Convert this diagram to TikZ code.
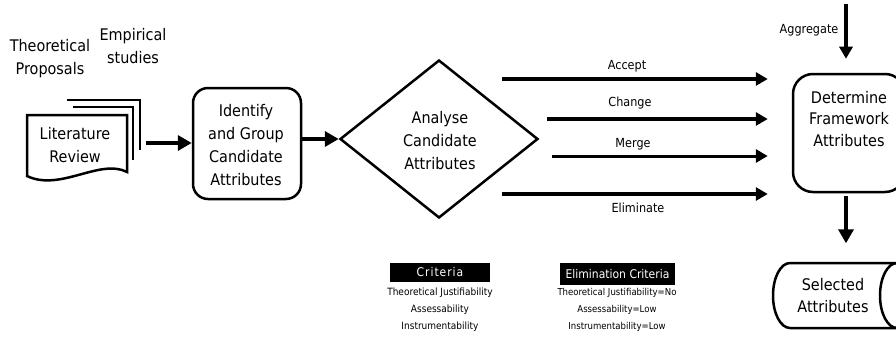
\documentclass[tikz,border=0pt]{standalone}
\usepackage{fontspec}
\setmainfont{DejaVu Sans}[FakeStretch=0.9]
\newfontfamily\widefont{DejaVu Sans}[FakeStretch=0.9,LetterSpace=8]
\usetikzlibrary{shapes.geometric,arrows.meta}
\begin{document}
\begin{tikzpicture}[x=1pt,y=-1pt,
  boxst/.style={draw,line width=2.5pt,rounded corners=15pt},
  arr/.style={line width=4pt,-{Triangle[length=14pt,width=15pt]}},
  arrs/.style={line width=4pt,-{Triangle[length=12pt,width=13pt]}},
  lbl/.style={inner sep=0pt,font=\fontsize{12.5}{14}\selectfont},
  txt/.style={align=center,inner sep=0pt,font=\fontsize{16}{23}\selectfont},
  crit/.style={align=center,inner sep=0pt,font=\fontsize{10}{17}\selectfont},
  hdr/.style={fill=black,text=white,inner sep=0pt,font=\fontsize{12}{13}\selectfont}]
\useasboundingbox (0,0) rectangle (896,345);
\clip (0,0) rectangle (896,345);

% sources
\node[txt] (theo) at (50,59) {Theoretical\\Proposals};
\node[txt] (emp) at (133,46.5) {Empirical\\studies};

% literature review (multi-document)
\draw[line width=2.5pt] (67,100) -- (140,100) -- (140,150);
\draw[line width=2.5pt] (73,107) -- (133,107) -- (133,160);
\draw[line width=2.5pt,fill=white] (27,115) -- (127,115) -- (127,172)
  .. controls (100,158) and (60,192) .. (27,176) -- cycle;
\node[txt] (lit) at (75,145) {Literature\\Review};
\coordinate (litout) at (146,143);

% identify
\node[boxst,minimum width=108pt,minimum height=111pt] (ident) at (247,143.5) {};
\node[txt] (identtxt) at (246,145) {Identify\\and Group\\Candidate\\Attributes};
\draw[arr] (litout) -- (litout -| ident.west);

% analyse diamond
\node[draw,diamond,line width=2.5pt,minimum width=198pt,minimum height=158pt] (ana) at (439,139) {};
\node[txt] (anatxt) at (440,141) {Analyse\\Candidate\\Attributes};
\draw[arr] (ident.east |- ana.west) -- (ana.west);

% determine
\node[boxst,rounded corners=20pt,minimum width=112pt,minimum height=118pt] (det) at (849,133) {};
\node[txt,font=\fontsize{16}{21.5}\selectfont] (dettxt) at (849,119) {Determine\\Framework\\Attributes};

% four outcome arrows
\coordinate (s1) at (502,79);
\coordinate (s2) at (547,119);
\coordinate (s3) at (552,156);
\coordinate (s4) at (502,194);
\draw[arrs,shorten >=24pt] (s1) -- (s1 -| det.west);
\draw[arrs,shorten >=24pt] (s2) -- (s2 -| det.west);
\draw[arrs,line width=3pt,shorten >=24pt] (s3) -- (s3 -| det.west);
\draw[arrs,shorten >=24pt] (s4) -- (s4 -| det.west);
\node[lbl] (acc) at (627,66) {Accept};
\node[lbl] (chg) at (630,103) {Change};
\node[lbl] (mrg) at (633,144) {Merge};
\node[lbl] (elm) at (638,208) {Eliminate};

% aggregate
\coordinate (agg) at (846,4);
\draw[arrs,shorten >=14pt] (agg) -- (agg |- det.north);
\node[lbl] (agglbl) at (809,30) {Aggregate};

% selected attributes (cylinder)
\draw[line width=2.5pt] (897,263) -- (790,263)
  arc[start angle=270,end angle=90,x radius=17,y radius=32.5] -- (897,328);
\draw[line width=2.5pt] (897,295.5) ellipse[x radius=17,y radius=32.5];
\node[txt,minimum height=65pt,font=\fontsize{16}{22}\selectfont] (sel) at (833,296) {Selected\\Attributes};
\draw[arr,shorten <=3pt,shorten >=20pt] (agg |- det.south) -- (agg |- sel.north);

% criteria
\node[hdr,minimum width=100pt,minimum height=19pt,font=\widefont\fontsize{12}{13}\selectfont] (crith) at (440,272.5) {Criteria};
\node[hdr,minimum width=115pt,minimum height=22pt] (elimh) at (617.5,274) {Elimination Criteria};
\node[crit] (critlist) at (440,310) {Theoretical Justifiability\\Assessability\\Instrumentability};
\node[crit,font=\fontsize{9.5}{17}\selectfont] (elimlist) at (617,310) {Theoretical Justifiability=No\\Assessability=Low\\Instrumentability=Low};
\end{tikzpicture}
\end{document}
